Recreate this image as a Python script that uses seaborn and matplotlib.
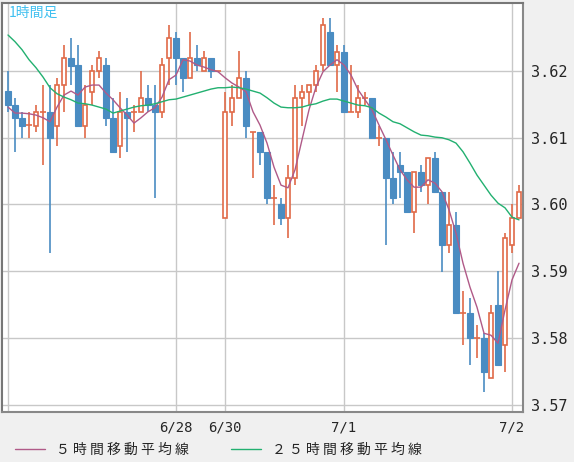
import numpy as np
import pandas as pd
import matplotlib
matplotlib.use("Agg")
import matplotlib.pyplot as plt
import seaborn as sns

opens = [3.6170,3.6149,3.6130,3.6119,3.6118,3.6139,3.6139,3.6118,3.6179,3.6220,3.6209,3.6118,3.6169,3.6200,3.6209,3.6130,3.6088,3.6139,3.6139,3.6139,
         3.6160,3.6149,3.6139,3.6220,3.6250,3.6220,3.6190,3.6220,3.6200,3.6220,3.6200,3.5980,3.6139,3.6160,3.6190,3.6109,3.6109,3.6079,3.6010,3.6000,
         3.5980,3.6040,3.6160,3.6169,3.6179,3.6209,3.6259,3.6209,3.6229,3.6139,3.6139,3.6160,3.6160,3.6100,3.6100,3.6040,3.6059,3.6049,3.5989,3.6049,
         3.6029,3.6070,3.6019,3.5940,3.5970,3.5838,3.5838,3.5800,3.5800,3.5740,3.5850,3.5790,3.5940,3.5980]
highs = [3.6200,3.6160,3.6139,3.6139,3.6149,3.6179,3.6179,3.6190,3.6239,3.6250,3.6239,3.6179,3.6209,3.6230,3.6220,3.6160,3.6169,3.6160,3.6149,3.6200,
         3.6179,3.6179,3.6220,3.6269,3.6259,3.6220,3.6259,3.6239,3.6230,3.6220,3.6200,3.6169,3.6179,3.6230,3.6200,3.6109,3.6109,3.6079,3.6029,3.6010,
         3.6059,3.6179,3.6179,3.6179,3.6209,3.6280,3.6280,3.6239,3.6239,3.6209,3.6179,3.6169,3.6160,3.6118,3.6100,3.6079,3.6079,3.6049,3.6049,3.6059,
         3.6070,3.6079,3.6019,3.6019,3.5989,3.5870,3.5860,3.5820,3.5808,3.5850,3.5900,3.5958,3.6000,3.6029]
lows = [3.6139,3.6079,3.6100,3.6100,3.6109,3.6059,3.5928,3.6088,3.6139,3.6179,3.6118,3.6100,3.6149,3.6190,3.6118,3.6079,3.6070,3.6079,3.6109,3.6139,
        3.6139,3.6010,3.6130,3.6179,3.6179,3.6169,3.6190,3.6200,3.6200,3.6190,3.6199,3.5980,3.6118,3.6160,3.6100,3.6040,3.6059,3.6000,3.5969,3.5969,
        3.5950,3.6029,3.6118,3.6149,3.6169,3.6200,3.6209,3.6169,3.6139,3.6139,3.6130,3.6149,3.6100,3.6088,3.5939,3.6000,3.6010,3.5989,3.5958,3.6019,
        3.6000,3.6019,3.5899,3.5928,3.5838,3.5789,3.5759,3.5770,3.5719,3.5740,3.5759,3.5749,3.5928,3.5980]
closes = [3.6149,3.6130,3.6118,3.6119,3.6139,3.6139,3.6100,3.6179,3.6220,3.6208,3.6118,3.6149,3.6200,3.6220,3.6130,3.6079,3.6139,3.6130,3.6139,3.6160,
          3.6149,3.6139,3.6209,3.6250,3.6220,3.6190,3.6220,3.6209,3.6220,3.6200,3.6200,3.6139,3.6160,3.6190,3.6118,3.6109,3.6079,3.6010,3.6010,3.5980,
          3.6040,3.6160,3.6169,3.6179,3.6200,3.6269,3.6209,3.6229,3.6139,3.6139,3.6160,3.6160,3.6100,3.6100,3.6040,3.6010,3.6049,3.5989,3.6049,3.6029,
          3.6070,3.6019,3.5940,3.5970,3.5838,3.5838,3.5800,3.5800,3.5749,3.5838,3.5759,3.5950,3.5980,3.6019]
ma5 = [3.6146,3.6137,3.6137,3.6136,3.6134,3.6130,3.6124,3.6146,3.6164,3.6170,3.6164,3.6176,3.6179,3.6179,3.6167,3.6157,3.6145,3.6134,3.6122,3.6130,
       3.6139,3.6145,3.6161,3.6187,3.6194,3.6217,3.6215,3.6209,3.6206,3.6202,3.6199,3.6190,3.6182,3.6176,3.6169,3.6139,3.6119,3.6092,3.6056,3.6029,
       3.6025,3.6052,3.6097,3.6142,3.6176,3.6199,3.6209,3.6217,3.6209,3.6194,3.6172,3.6157,3.6142,3.6119,3.6097,3.6074,3.6052,3.6037,3.6026,3.6026,
       3.6037,3.6032,3.6019,3.5992,3.5957,3.5912,3.5876,3.5846,3.5807,3.5804,3.5792,3.5842,3.5887,3.5912]
ma25 = [3.6254,3.6244,3.6232,3.6217,3.6205,3.6191,3.6175,3.6166,3.6161,3.6157,3.6152,3.6151,3.6149,3.6146,3.6143,3.6137,3.6140,3.6143,3.6146,3.6148,
        3.6149,3.6151,3.6154,3.6157,3.6158,3.6161,3.6164,3.6167,3.6170,3.6173,3.6175,3.6175,3.6176,3.6175,3.6173,3.6170,3.6167,3.6160,3.6152,3.6146,
        3.6145,3.6145,3.6146,3.6149,3.6151,3.6155,3.6158,3.6158,3.6155,3.6152,3.6149,3.6148,3.6145,3.6137,3.6131,3.6124,3.6121,3.6115,3.6109,3.6104,
        3.6103,3.6101,3.6100,3.6097,3.6092,3.6079,3.6062,3.6044,3.6029,3.6014,3.6002,3.5995,3.5981,3.5977]
yticks = [3.57, 3.58, 3.59, 3.60, 3.61, 3.62]
date_ticks = {25: "6/28", 32: "6/30", 49: "7/1", 73: "7/2"}

sns.set_style("white")
plt.rcParams['font.family'] = ['Noto Sans CJK JP', 'DejaVu Sans']

W, H = 574, 462
fig = plt.figure(figsize=(W/100, H/100), dpi=100, facecolor="#f0f0f0")
ax = fig.add_axes([2/W, (H-412)/H, 521/W, 409/H])
ax.set_facecolor("white")

n = len(opens)
df = pd.DataFrame({"i": np.arange(1, n+1), "o": opens, "h": highs, "l": lows, "c": closes,
                   "ma5": ma5, "ma25": ma25})
blue, red = "#4a8cc2", "#e06a48"
for i, o, h, l, c in zip(df.i, df.o, df.h, df.l, df.c):
    if c < o:
        ax.vlines(i, l, h, color=blue, lw=1.2, zorder=3)
        ax.bar(i, o-c, bottom=c, width=0.72, color=blue, edgecolor=blue, lw=0.8, zorder=4)
    else:
        ax.vlines(i, l, h, color=red, lw=1.2, zorder=3)
        if abs(c-o) < 1e-5:
            ax.hlines(o, i-0.36, i+0.36, color=red, lw=1.2, zorder=4)
        else:
            ax.bar(i, c-o, bottom=o, width=0.62, color="white", edgecolor=red, lw=1.2, zorder=4)

sns.lineplot(data=df, x="i", y="ma5", ax=ax, color="#b05a88", lw=1.0, zorder=5, label="５ 時 間 移 動 平 均 線")
sns.lineplot(data=df, x="i", y="ma25", ax=ax, color="#22b070", lw=1.0, zorder=5, label="２ ５ 時 間 移 動 平 均 線")

ax.set_xlim(0.14, 74.57)
ax.set_ylim(3.5689, 3.6302)
ax.set_yticks(yticks)
ax.set_yticklabels([f"{v:.2f}" for v in yticks], family="DejaVu Sans Mono", fontsize=11)
ax.yaxis.tick_right()
ax.set_xticks([1] + list(date_ticks.keys()))
ax.set_xticklabels([""] + list(date_ticks.values()), family="DejaVu Sans Mono", fontsize=10)
ax.tick_params(length=0, pad=6)
ax.grid(True, color="#c8c8c8", lw=1)
ax.set_axisbelow(True)
ax.set_xlabel(""); ax.set_ylabel("")
for s in ["left", "top"]:
    ax.spines[s].set_color("#777777"); ax.spines[s].set_linewidth(1.5)
for s in ["right", "bottom"]:
    ax.spines[s].set_color("#888888"); ax.spines[s].set_linewidth(1.5)

ax.text(0.012, 0.992, "1時間足", transform=ax.transAxes, color="#40c0f0", fontsize=10, va="top", ha="left")

leg = ax.legend(loc="upper left", bbox_to_anchor=(0.0, -0.045), ncol=2, frameon=False,
                fontsize=10, handlelength=2.2, columnspacing=3)
fig.savefig("out.png", dpi=100, facecolor=fig.get_facecolor())
